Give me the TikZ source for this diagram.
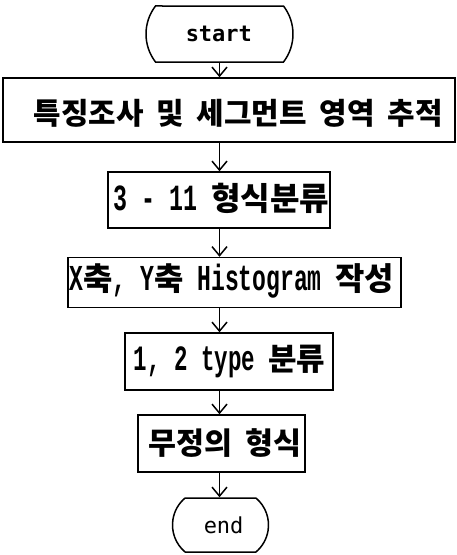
\documentclass[tikz,border=0pt]{standalone}
\usepackage{fontspec}
\usetikzlibrary{shapes.misc,arrows.meta}
\newfontfamily\krfont[Kerning=Off]{Noto Sans CJK KR}
\newfontfamily\latfont{Liberation Mono}
\newfontfamily\termfont{DejaVu Sans Mono}
\newcommand\lat[2]{\scalebox{0.631}[1]{\fontsize{#1}{#1}\selectfont\latfont\bfseries #2}}
\newcommand\hs{\hspace{0.43em}}
\begin{document}
\begin{tikzpicture}[x=1pt,y=1pt,
  line width=1.5pt,
  box/.style={draw,rectangle,inner sep=0pt},
  term/.style={draw,rounded rectangle,inner sep=0pt},
  arr/.style={-{Straight Barb[length=9pt,width=15pt]}},
  txt/.style={inner sep=0pt,anchor=west},
  kr/.style={font=\krfont\bfseries\fontsize{#1}{#1}\selectfont}]
\useasboundingbox (0,0) rectangle (457,-555);
% shapes
\node[term,minimum width=147pt,minimum height=56pt,rounded rectangle arc length=75] (start) at (219.5,-34) {};
\node[box,minimum width=452pt,minimum height=64pt] (b1) at (229,-110) {};
\node[box,minimum width=222pt,minimum height=56pt] (b2) at (219,-200) {};
\node[box,minimum width=333pt,minimum height=50pt] (b3) at (234.5,-282.5) {};
\node[box,minimum width=208pt,minimum height=57pt] (b4) at (229,-361.5) {};
\node[box,minimum width=167pt,minimum height=57pt] (b5) at (221.5,-443.5) {};
\node[term,minimum width=96pt,minimum height=54pt,rounded rectangle arc length=100] (end) at (220.5,-525) {};
% texts
\node[txt,font=\termfont\bfseries\fontsize{22}{22}\selectfont] (tstart) at (185,-34) {start};
\node[txt,kr=29.9] (t1) at (33,-113) {특징조사\hs 및\hs 세그먼트\hs 영역\hs 추적};
\node[txt,kr=32.1] (t2) at (113,-198) {\lat{36.9pt}{3 - 11}\hs 형식분류};
\node[txt,kr=31.9] (t3) at (69,-281) {\lat{36.5pt}{X}축\lat{36.5pt}{, Y}축\hs\lat{36.5pt}{Histogram}\hs 작성};
\node[txt,kr=31] (t4) at (133,-361) {\lat{35.6pt}{1, 2 type}\hs 분류};
\node[txt,kr=30.4] (t5) at (148,-443) {무정의\hs 형식};
\node[txt,font=\termfont\fontsize{22}{22}\selectfont] (tend) at (203,-525) {end};
% connectors
\draw[arr] (start.south) -- (start.south |- b1.north);
\draw[arr] (b1.south -| start) -- (b2.north -| start);
\draw[arr] (b2.south -| start) -- (b3.north -| start);
\draw[arr] (b3.south -| start) -- (b4.north -| start);
\draw[arr] (b4.south -| start) -- (b5.north -| start);
\draw[arr] (b5.south -| start) -- (end.north -| start);
\end{tikzpicture}
\end{document}
